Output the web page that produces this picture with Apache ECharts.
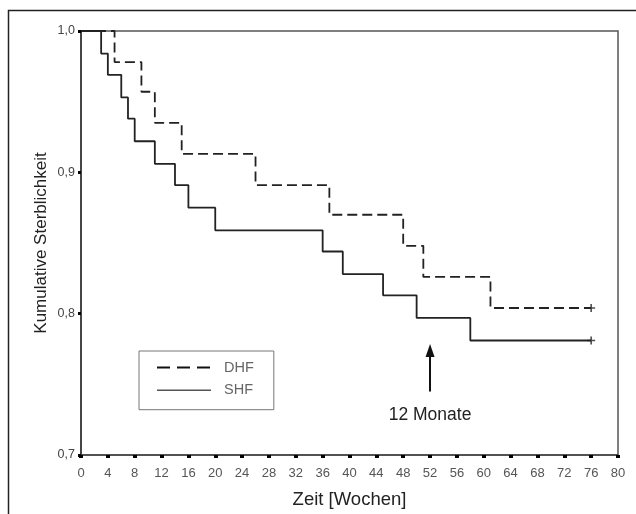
<!DOCTYPE html>
<html><head><meta charset="utf-8">
<script src="https://cdn.jsdelivr.net/npm/echarts@6/dist/echarts.min.js"></script>
<style>html,body{margin:0;padding:0;background:#fff}#c{width:636px;height:514px}</style>
</head><body><div id="c"></div>
<script>
// Kaplan-Meier steps (weeks, cumulative value)
const dhfTimes = [0, 5, 9, 11, 15, 26, 37, 48, 51, 61, 76];
const dhfValues = [1.0, 0.978, 0.957, 0.935, 0.913, 0.891, 0.870, 0.848, 0.826, 0.804, 0.804];
const shfTimes = [0, 3, 4, 6, 7, 8, 11, 14, 16, 20, 36, 39, 45, 50, 58, 76];
const shfValues = [1.0, 0.984, 0.969, 0.953, 0.938, 0.922, 0.906, 0.891, 0.875, 0.859, 0.844, 0.828, 0.813, 0.797, 0.781, 0.781];
const censorDHF = [[76, 0.804]];
const censorSHF = [[76, 0.781]];
const xTicks = [0,4,8,12,16,20,24,28,32,36,40,44,48,52,56,60,64,68,72,76,80];
const yTicks = [0.7, 0.8, 0.9, 1.0];
const arrowX = 52, arrowFrom = 0.745, arrowTo = 0.774, arrowText = '12 Monate', arrowTextY = 0.728;

const zip = (a, b) => a.map((t, i) => [t, b[i]]);
const font = '"Liberation Sans", Arial, sans-serif';
const plus = 'path://M4,0H6V4H10V6H6V10H4V6H0V4H4Z';

const chart = echarts.init(document.getElementById('c'), null, {renderer: 'canvas'});
chart.setOption({
  animation: false,
  backgroundColor: '#fff',
  textStyle: {fontFamily: font},
  grid: {left: 81, top: 31, right: 18, bottom: 59, show: true, borderColor: '#555', borderWidth: 1.5},
  graphic: [{
    type: 'rect', shape: {x: 8.5, y: 10.5, width: 640, height: 520},
    style: {fill: 'none', stroke: '#222', lineWidth: 1.5}, silent: true, z: -1
  }],
  legend: {
    data: [
      {name: 'DHF', lineStyle: {type: [13, 7], width: 2, color: '#111'}},
      {name: 'SHF', lineStyle: {type: 'solid', width: 1.6, color: '#555'}}
    ],
    orient: 'vertical', left: 139, top: 351,
    padding: [9, 20, 12, 17], itemWidth: 54, itemHeight: 14, itemGap: 7.7,
    borderColor: '#777', borderWidth: 1, selectedMode: false,
    itemStyle: {opacity: 0},
    textStyle: {color: '#666', fontSize: 14.5, fontFamily: font, padding: [0, 0, 0, 8]}
  },
  xAxis: {
    type: 'value', min: 0, max: 80, interval: 4,
    name: 'Zeit [Wochen]', nameLocation: 'middle', nameGap: 35, nameMoveOverlap: false,
    nameTextStyle: {fontSize: 18.5, color: '#222', fontFamily: font},
    axisLine: {lineStyle: {color: '#444', width: 1.5}},
    axisTick: {show: true, length: 3, lineStyle: {color: '#000', width: 4}},
    axisLabel: {color: '#555', fontSize: 13, margin: 12, fontFamily: font},
    splitLine: {show: false}
  },
  yAxis: {
    type: 'value', min: 0.7, max: 1.0, interval: 0.1,
    name: 'Kumulative Sterblichkeit', nameLocation: 'middle', nameGap: 31, nameMoveOverlap: false,
    nameTextStyle: {fontSize: 17, color: '#222', fontFamily: font},
    axisLine: {show: true, lineStyle: {color: '#333', width: 1.5}},
    axisTick: {show: true, length: 3, lineStyle: {color: '#000', width: 3}},
    axisLabel: {color: '#444', fontSize: 12.5, margin: 6, fontFamily: font,
      formatter: v => yTicks.find(t => Math.abs(t - v) < 1e-6).toFixed(1).replace('.', ',')},
    splitLine: {show: false}
  },
  series: [
    {
      name: 'DHF', type: 'line', step: 'end', showSymbol: false, symbol: 'none',
      data: zip(dhfTimes, dhfValues),
      lineStyle: {color: '#222', width: 1.8, type: [10, 5]},
      itemStyle: {color: '#222'}
    },
    {
      name: 'SHF', type: 'line', step: 'end', showSymbol: false, symbol: 'none',
      data: zip(shfTimes, shfValues),
      lineStyle: {color: '#222', width: 1.8, type: 'solid'},
      itemStyle: {color: '#222'},
      markLine: {
        silent: true, symbol: ['none', 'triangle'], symbolSize: [9, 13],
        lineStyle: {color: '#111', width: 2, type: 'solid'}, label: {show: false},
        data: [[{coord: [arrowX, arrowFrom]}, {coord: [arrowX, arrowTo]}]]
      },
      markPoint: {
        silent: true, symbol: 'circle', symbolSize: 1,
        itemStyle: {color: 'rgba(0,0,0,0)'},
        label: {show: true, position: 'inside', formatter: arrowText, color: '#222', fontSize: 17.5, fontFamily: font},
        data: [{coord: [arrowX, arrowTextY], value: 0}]
      }
    },
    {type: 'scatter', data: censorDHF, symbol: plus, symbolSize: 8, itemStyle: {color: '#222'}},
    {type: 'scatter', data: censorSHF, symbol: plus, symbolSize: 8, itemStyle: {color: '#222'}}
  ]
});
</script></body></html>
